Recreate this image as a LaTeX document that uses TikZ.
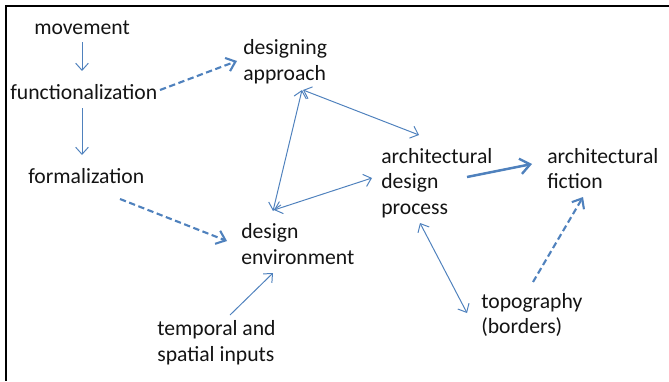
\documentclass[tikz,border=0pt]{standalone}
\usepackage{fontspec}
\setmainfont{Carlito}
\usetikzlibrary{arrows.meta,calc}
\definecolor{linkblue}{HTML}{4F81BD}
\definecolor{ink}{HTML}{141414}
\tikzset{
  concept/.style={
    inner sep=0pt, anchor=west, align=left,
    font=\fontsize{15.4}{18.3}\selectfont, text=ink
  },
  link/.style={
    -{Straight Barb[length=5pt,width=9pt]}, line width=0.7pt, color=linkblue
  },
  duallink/.style={
    {Straight Barb[length=5pt,width=9pt]}-{Straight Barb[length=5pt,width=9pt]},
    line width=0.7pt, color=linkblue
  },
  strong/.style={
    -{Straight Barb[length=7pt,width=11pt,line width=1.7pt]}, line width=1.8pt,
    color=linkblue
  },
  weak/.style={
    -{Straight Barb[length=6pt,width=10pt,line width=1.5pt]}, line width=1.5pt,
    color=linkblue, dash pattern=on 4.5pt off 2.5pt
  },
}

\begin{document}
\begin{tikzpicture}[x=0.025cm, y=-0.025cm]
  \useasboundingbox (0,0) rectangle (669,381);
  % frame
  \draw[line width=1.8pt] (669,6) -- (6,6) -- (6,381);

  % concepts
  \node[concept] (mov) at (34,27.5) {movement};
  \node[concept] (func) at (10,92) {functionalization};
  \node[concept] (form) at (28,176) {formalization};
  \node[concept] (appr) at (243,62) {designing\\approach};
  \node[concept] (proc) at (381,183) {architectural\\design\\process};
  \node[concept] (fict) at (547,168.5) {architectural\\fiction};
  \node[concept] (env) at (241,244) {design\\environment};
  \node[concept] (inp) at (157,342.5) {temporal and\\spatial inputs};
  \node[concept] (topo) at (481,315) {topography\\(borders)};

  % connectors
  \draw[link] ($(mov.west)+(48,15)$) -- ($(func.west)+(72,-21)$);
  \draw[link] ($(func.west)+(72,16)$) -- ($(form.west)+(54,-21)$);
  \draw[weak] ($(func.west)+(150,-2)$) -- ($(appr.west)+(-6,-1)$);
  \draw[weak] ($(form.west)+(92,23)$) -- ($(env.west)+(-14,-3)$);

  \draw[duallink] ($(appr.west)+(59,28)$) -- ($(env.west)+(32,-33)$);
  \draw[duallink] ($(appr.west)+(60,28)$) -- ($(proc.west)+(38,-48)$);
  \draw[duallink] ($(env.west)+(33,-34)$) -- ($(proc.west)+(-9,-5)$);
  \draw[strong] ($(proc.west)+(86,-6)$) -- ($(fict.west)+(-15,-4.5)$);
  \draw[duallink] ($(proc.west)+(39,40)$) -- ($(topo.west)+(-14,-2)$);
  \draw[weak] ($(topo.west)+(52,-33)$) -- ($(fict.west)+(36,28.5)$);
  \draw[link] ($(inp.west)+(73,-27.5)$) -- ($(env.west)+(32,29)$);
\end{tikzpicture}
\end{document}
